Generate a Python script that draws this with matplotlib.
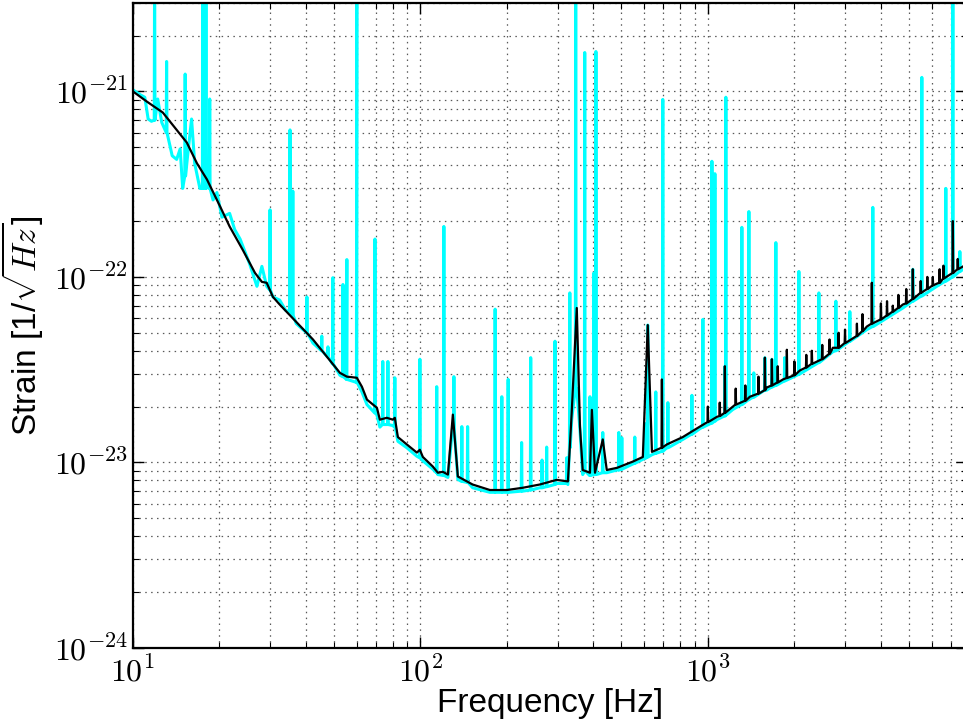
import matplotlib
matplotlib.use("Agg")
import matplotlib.pyplot as plt
import matplotlib.ticker as mticker
import numpy as np


# 全局字体
matplotlib.rcParams["font.family"] = "Liberation Sans"
matplotlib.rcParams["mathtext.fontset"] = "cm"


# 黑线：平滑后的噪声谱 (Hz, 1/sqrt(Hz))
black_freq = [10, 11.2, 12.7, 14.2, 15.4, 16.7, 18.1, 20.1, 21.7, 24.1, 26.6, 28.1, 29.2,
              30.7, 32.4, 42.3, 52.5, 55.5, 60.1, 62.6, 65.2, 70.6, 72.3, 76.4, 80.2,
              81.5, 83.5, 89.7, 97.2, 99.6, 102, 110.5, 115, 119.7, 124.7, 129.7, 135,
              152, 174.5, 200, 227, 260, 298, 326, 336, 350, 359, 367, 389, 395, 405,
              431, 445, 483, 548, 594, 618, 639, 720, 818, 938, 1075, 1222, 1400, 1600,
              1824, 2089, 2722, 3573, 4768, 6259, 7960]
black_asd = [1.0e-21, 8.8e-22, 7.7e-22, 6.2e-22, 5.3e-22, 4.1e-22, 3.35e-22, 2.4e-22,
             1.87e-22, 1.40e-22, 1.05e-22, 9.4e-23, 9.3e-23, 7.8e-23, 7.1e-23, 4.6e-23,
             3.04e-23, 2.9e-23, 2.86e-23, 2.56e-23, 2.18e-23, 1.97e-23, 1.70e-23, 1.74e-23,
             1.70e-23, 1.74e-23, 1.37e-23, 1.25e-23, 1.13e-23, 1.17e-23, 1.07e-23, 9.5e-24,
             8.8e-24, 8.9e-24, 8.6e-24, 1.81e-23, 8.4e-24, 7.6e-24, 7.1e-24, 7.1e-24,
             7.3e-24, 7.6e-24, 8.05e-24, 7.9e-24, 1.85e-23, 6.8e-23, 1.56e-23, 9.1e-24,
             8.8e-24, 1.92e-23, 8.8e-24, 1.33e-23, 9.1e-24, 9.35e-24, 1.01e-23, 1.07e-23,
             5.5e-23, 1.14e-23, 1.25e-23, 1.37e-23, 1.56e-23, 1.76e-23, 2.0e-23, 2.26e-23,
             2.53e-23, 2.8e-23, 3.13e-23, 4.15e-23, 5.4e-23, 7.1e-23, 9.2e-23, 1.17e-22]

# 黑线上的窄峰：频率, 峰值, 峰底
black_spike_freq = [692, 1000, 1100, 1146, 1250, 1350, 1500, 1579, 1670, 1750, 1883,
                    2000, 2200, 2300, 2500, 2650, 2850, 3000, 3300, 3450, 3718, 4000,
                    4200, 4400, 4600, 4900, 5164, 5500, 5800, 6060, 6400, 6600, 7115, 7400]
black_spike_peak = [2.8e-23, 2.0e-23, 2.1e-23, 3.3e-23, 2.5e-23, 2.6e-23, 2.9e-23,
                    3.67e-23, 3.6e-23, 3.3e-23, 4.05e-23, 3.5e-23, 3.8e-23, 4.0e-23,
                    4.3e-23, 4.6e-23, 5.0e-23, 5.2e-23, 5.6e-23, 6.3e-23, 9.3e-23,
                    7.2e-23, 7.4e-23, 7.0e-23, 8.0e-23, 8.6e-23, 1.1e-22, 9.5e-23,
                    1.0e-22, 1.0e-22, 1.1e-22, 1.15e-22, 2.0e-22, 1.25e-22]
black_spike_base = [1.2e-23, 1.65e-23, 1.78e-23, 1.85e-23, 2.05e-23, 2.15e-23, 2.35e-23,
                    2.45e-23, 2.6e-23, 2.7e-23, 2.85e-23, 2.95e-23, 3.25e-23, 3.4e-23,
                    3.6e-23, 3.85e-23, 4.15e-23, 4.4e-23, 4.8e-23, 5.1e-23, 5.6e-23,
                    5.9e-23, 6.2e-23, 6.5e-23, 6.8e-23, 7.2e-23, 7.6e-23, 8.2e-23,
                    8.6e-23, 9.0e-23, 9.3e-23, 9.8e-23, 1.05e-22, 1.1e-22]

# 青线：原始噪声谱的底
cyan_freq = [10.0, 10.6, 11.0, 11.3, 11.6, 12.2, 12.6, 13.7, 14.2, 14.6, 14.9, 15.5,
             16.0, 16.4, 17.1, 18.2, 19.0, 19.6, 20.4, 21.7, 22.6, 23.6, 25.5, 27.0,
             28.1, 29.2, 30.7, 32.4, 34.0, 37.0, 42.3, 52.5, 55.5, 60.1, 62.6, 65.2,
             70.6, 72.3, 76.4, 80.2, 83.5, 89.7, 97.2, 102, 110.5, 115, 124.7, 129.7,
             135, 152, 174.5, 200, 227, 260, 298, 326, 336, 350, 359, 367, 389, 445,
             483, 548, 594, 639, 720, 818, 938, 1075, 1222, 1400, 1600, 1824, 2089,
             2722, 3573, 4768, 6259, 7960]
cyan_asd = [1.02e-21, 9.6e-22, 9.3e-22, 7.1e-22, 6.9e-22, 9.1e-22, 6.8e-22, 4.5e-22,
            4.3e-22, 4.9e-22, 3.0e-22, 4.5e-22, 7.1e-22, 4.1e-22, 3.0e-22, 3.1e-22,
            2.6e-22, 2.85e-22, 2.1e-22, 2.2e-22, 1.8e-22, 1.6e-22, 1.17e-22, 8.9e-23,
            1.14e-22, 8.9e-23, 7.8e-23, 7.5e-23, 6.6e-23, 5.6e-23, 4.4e-23, 2.95e-23,
            2.8e-23, 2.7e-23, 2.4e-23, 2.05e-23, 1.8e-23, 1.55e-23, 1.6e-23, 1.58e-23,
            1.3e-23, 1.2e-23, 1.08e-23, 1.02e-23, 9.2e-24, 8.6e-24, 8.3e-24, 1.6e-23,
            8.1e-24, 7.3e-24, 6.9e-24, 6.9e-24, 7.0e-24, 7.3e-24, 7.7e-24, 7.6e-24,
            1.7e-23, 2.5e-23, 1.5e-23, 8.6e-24, 8.5e-24, 8.8e-24, 9.1e-24, 9.8e-24,
            1.04e-23, 1.1e-23, 1.2e-23, 1.33e-23, 1.52e-23, 1.7e-23, 1.93e-23, 2.2e-23,
            2.45e-23, 2.72e-23, 3.0e-23, 3.95e-23, 5.2e-23, 6.8e-23, 8.9e-23, 1.14e-22]

# 青线上的谱线：频率, 峰值 (5e-21 表示超出上边界), 峰底
cyan_spike_freq = [11.9, 13.1, 15.2, 17.5, 17.95, 18.5, 30.0, 35.2, 36.0, 40.3, 45.4,
                   47.7, 49.6, 53.8, 55.5, 60.1, 69.5, 74.0, 77.1, 81.5, 99.6, 114,
                   120.7, 130.8, 139.4, 146, 182, 192, 202, 225, 242, 265, 275, 294,
                   323, 331, 347, 373, 389, 401, 408, 431, 490, 502, 557, 604, 618,
                   659, 697, 726, 880, 961, 1033, 1058, 1146, 1155, 1313, 1389, 1445,
                   1579, 1670, 1724, 1850, 2073, 2433, 2788, 3118, 3748, 5164, 5550,
                   6726, 7115, 7526]
cyan_spike_peak = [5e-21, 1.45e-21, 1.24e-21, 5e-21, 5e-21, 9.1e-22, 2.3e-22, 6.2e-22,
                   2.9e-22, 7.8e-23, 4.8e-23, 4.2e-23, 9.9e-23, 9.1e-23, 1.24e-22, 5e-21,
                   1.6e-22, 3.5e-23, 3.5e-23, 2.86e-23, 3.6e-23, 2.56e-23, 1.87e-22,
                   2.9e-23, 1.56e-23, 1.56e-23, 6.7e-23, 2.26e-23, 2.8e-23, 1.28e-23,
                   3.67e-23, 1.03e-23, 1.21e-23, 4.5e-23, 1.06e-23, 8.2e-23, 5e-21,
                   1.62e-21, 2.26e-23, 1.05e-22, 1.64e-21, 1.45e-23, 1.45e-23, 1.36e-23,
                   1.37e-23, 1.62e-23, 5.5e-23, 2.4e-23, 9.05e-22, 2.1e-23, 2.3e-23,
                   5.9e-23, 4.2e-22, 3.6e-22, 3.3e-23, 9.3e-22, 1.85e-22, 2.25e-22,
                   3.04e-23, 3.67e-23, 3.6e-23, 1.53e-22, 3.67e-23, 1.07e-22, 8.2e-23,
                   7.4e-23, 6.5e-23, 2.37e-22, 1.1e-22, 1.19e-21, 3.0e-22, 5e-21, 1.37e-22]
cyan_spike_base = [7.0e-22, 6.0e-22, 3.5e-22, 3.0e-22, 3.0e-22, 3.0e-22, 8.5e-23, 6.5e-23,
                   6.2e-23, 5.0e-23, 4.0e-23, 3.7e-23, 3.4e-23, 2.9e-23, 2.8e-23, 2.7e-23,
                   1.85e-23, 1.6e-23, 1.6e-23, 1.55e-23, 1.06e-23, 8.8e-24, 8.5e-24,
                   1.5e-23, 7.9e-24, 7.8e-24, 6.9e-24, 6.9e-24, 6.9e-24, 7.0e-24, 7.1e-24,
                   7.3e-24, 7.4e-24, 7.6e-24, 7.7e-24, 1.2e-23, 2.5e-23, 9e-24, 8.5e-24,
                   8.6e-24, 8.6e-24, 8.8e-24, 9.1e-24, 9.2e-24, 9.9e-24, 1.05e-23,
                   1.07e-23, 1.12e-23, 1.15e-23, 1.2e-23, 1.42e-23, 1.55e-23, 1.63e-23,
                   1.67e-23, 1.78e-23, 1.8e-23, 2.05e-23, 2.18e-23, 2.25e-23, 2.45e-23,
                   2.55e-23, 2.6e-23, 2.75e-23, 2.98e-23, 3.45e-23, 4.0e-23, 4.5e-23,
                   5.4e-23, 7.4e-23, 7.9e-23, 9.5e-23, 1.0e-22, 1.07e-22]

# 刻度位置
x_major = [1e1, 1e2, 1e3]
y_major = [1e-24, 1e-23, 1e-22, 1e-21]


def add_spikes(freq, asd, sp_freq, sp_peak, sp_base, w=0.003):
    # 把窄峰插入到底噪曲线里，按频率排序
    sf = np.asarray(sp_freq, dtype=float)
    ff = np.concatenate([freq, sf * (1 - w), sf, sf * (1 + w)])
    vv = np.concatenate([asd, sp_base, sp_peak, sp_base])
    order = np.argsort(ff)
    return ff[order], vv[order]


cyan_x, cyan_y = add_spikes(cyan_freq, cyan_asd, cyan_spike_freq, cyan_spike_peak, cyan_spike_base)
black_x, black_y = add_spikes(black_freq, black_asd, black_spike_freq, black_spike_peak, black_spike_base)


# 创建画布
fig = plt.figure(figsize=(9.63, 7.28), dpi=100)
axs = fig.add_axes([0.138, 0.11, 0.866, 0.886])

axs.loglog(cyan_x, cyan_y, color="#00ffff", linewidth=2.2, zorder=2)
axs.loglog(black_x, black_y, color="black", linewidth=1.6, zorder=3)

axs.set_xlim(10, 7960)
axs.set_ylim(1e-24, 3.0e-21)

# 刻度：只保留可见范围内的主刻度
fmt = mticker.FuncFormatter(lambda v, pos: r"$10^{%d}$" % round(np.log10(v)))
axs.xaxis.set_major_locator(mticker.FixedLocator(x_major))
axs.yaxis.set_major_locator(mticker.FixedLocator(y_major))
axs.xaxis.set_minor_locator(mticker.LogLocator(base=10, subs=np.arange(2, 10), numticks=20))
axs.yaxis.set_minor_locator(mticker.LogLocator(base=10, subs=np.arange(2, 10), numticks=20))
axs.xaxis.set_major_formatter(fmt)
axs.yaxis.set_major_formatter(fmt)
axs.xaxis.set_minor_formatter(mticker.NullFormatter())
axs.yaxis.set_minor_formatter(mticker.NullFormatter())
axs.tick_params(which="both", direction="in", top=True, right=True, labelsize=23)
axs.tick_params(which="major", length=8, width=1)
axs.tick_params(which="minor", length=4, width=0.8)
axs.tick_params(axis="x", pad=6)

# 网格线
axs.grid(True, which="both", axis="both", color="0.35", linestyle=(0, (1.2, 3.5)), linewidth=0.9)
axs.set_axisbelow(True)

for s in axs.spines.values():
    s.set_linewidth(1.6)

# 坐标轴标签
axs.set_xlabel("Frequency [Hz]", fontsize=24, labelpad=0)
axs.set_ylabel(r"Strain [1/$\sqrt{Hz}$]", fontsize=24, labelpad=6)

fig.savefig("out.png", dpi=100)
plt.close(fig)
